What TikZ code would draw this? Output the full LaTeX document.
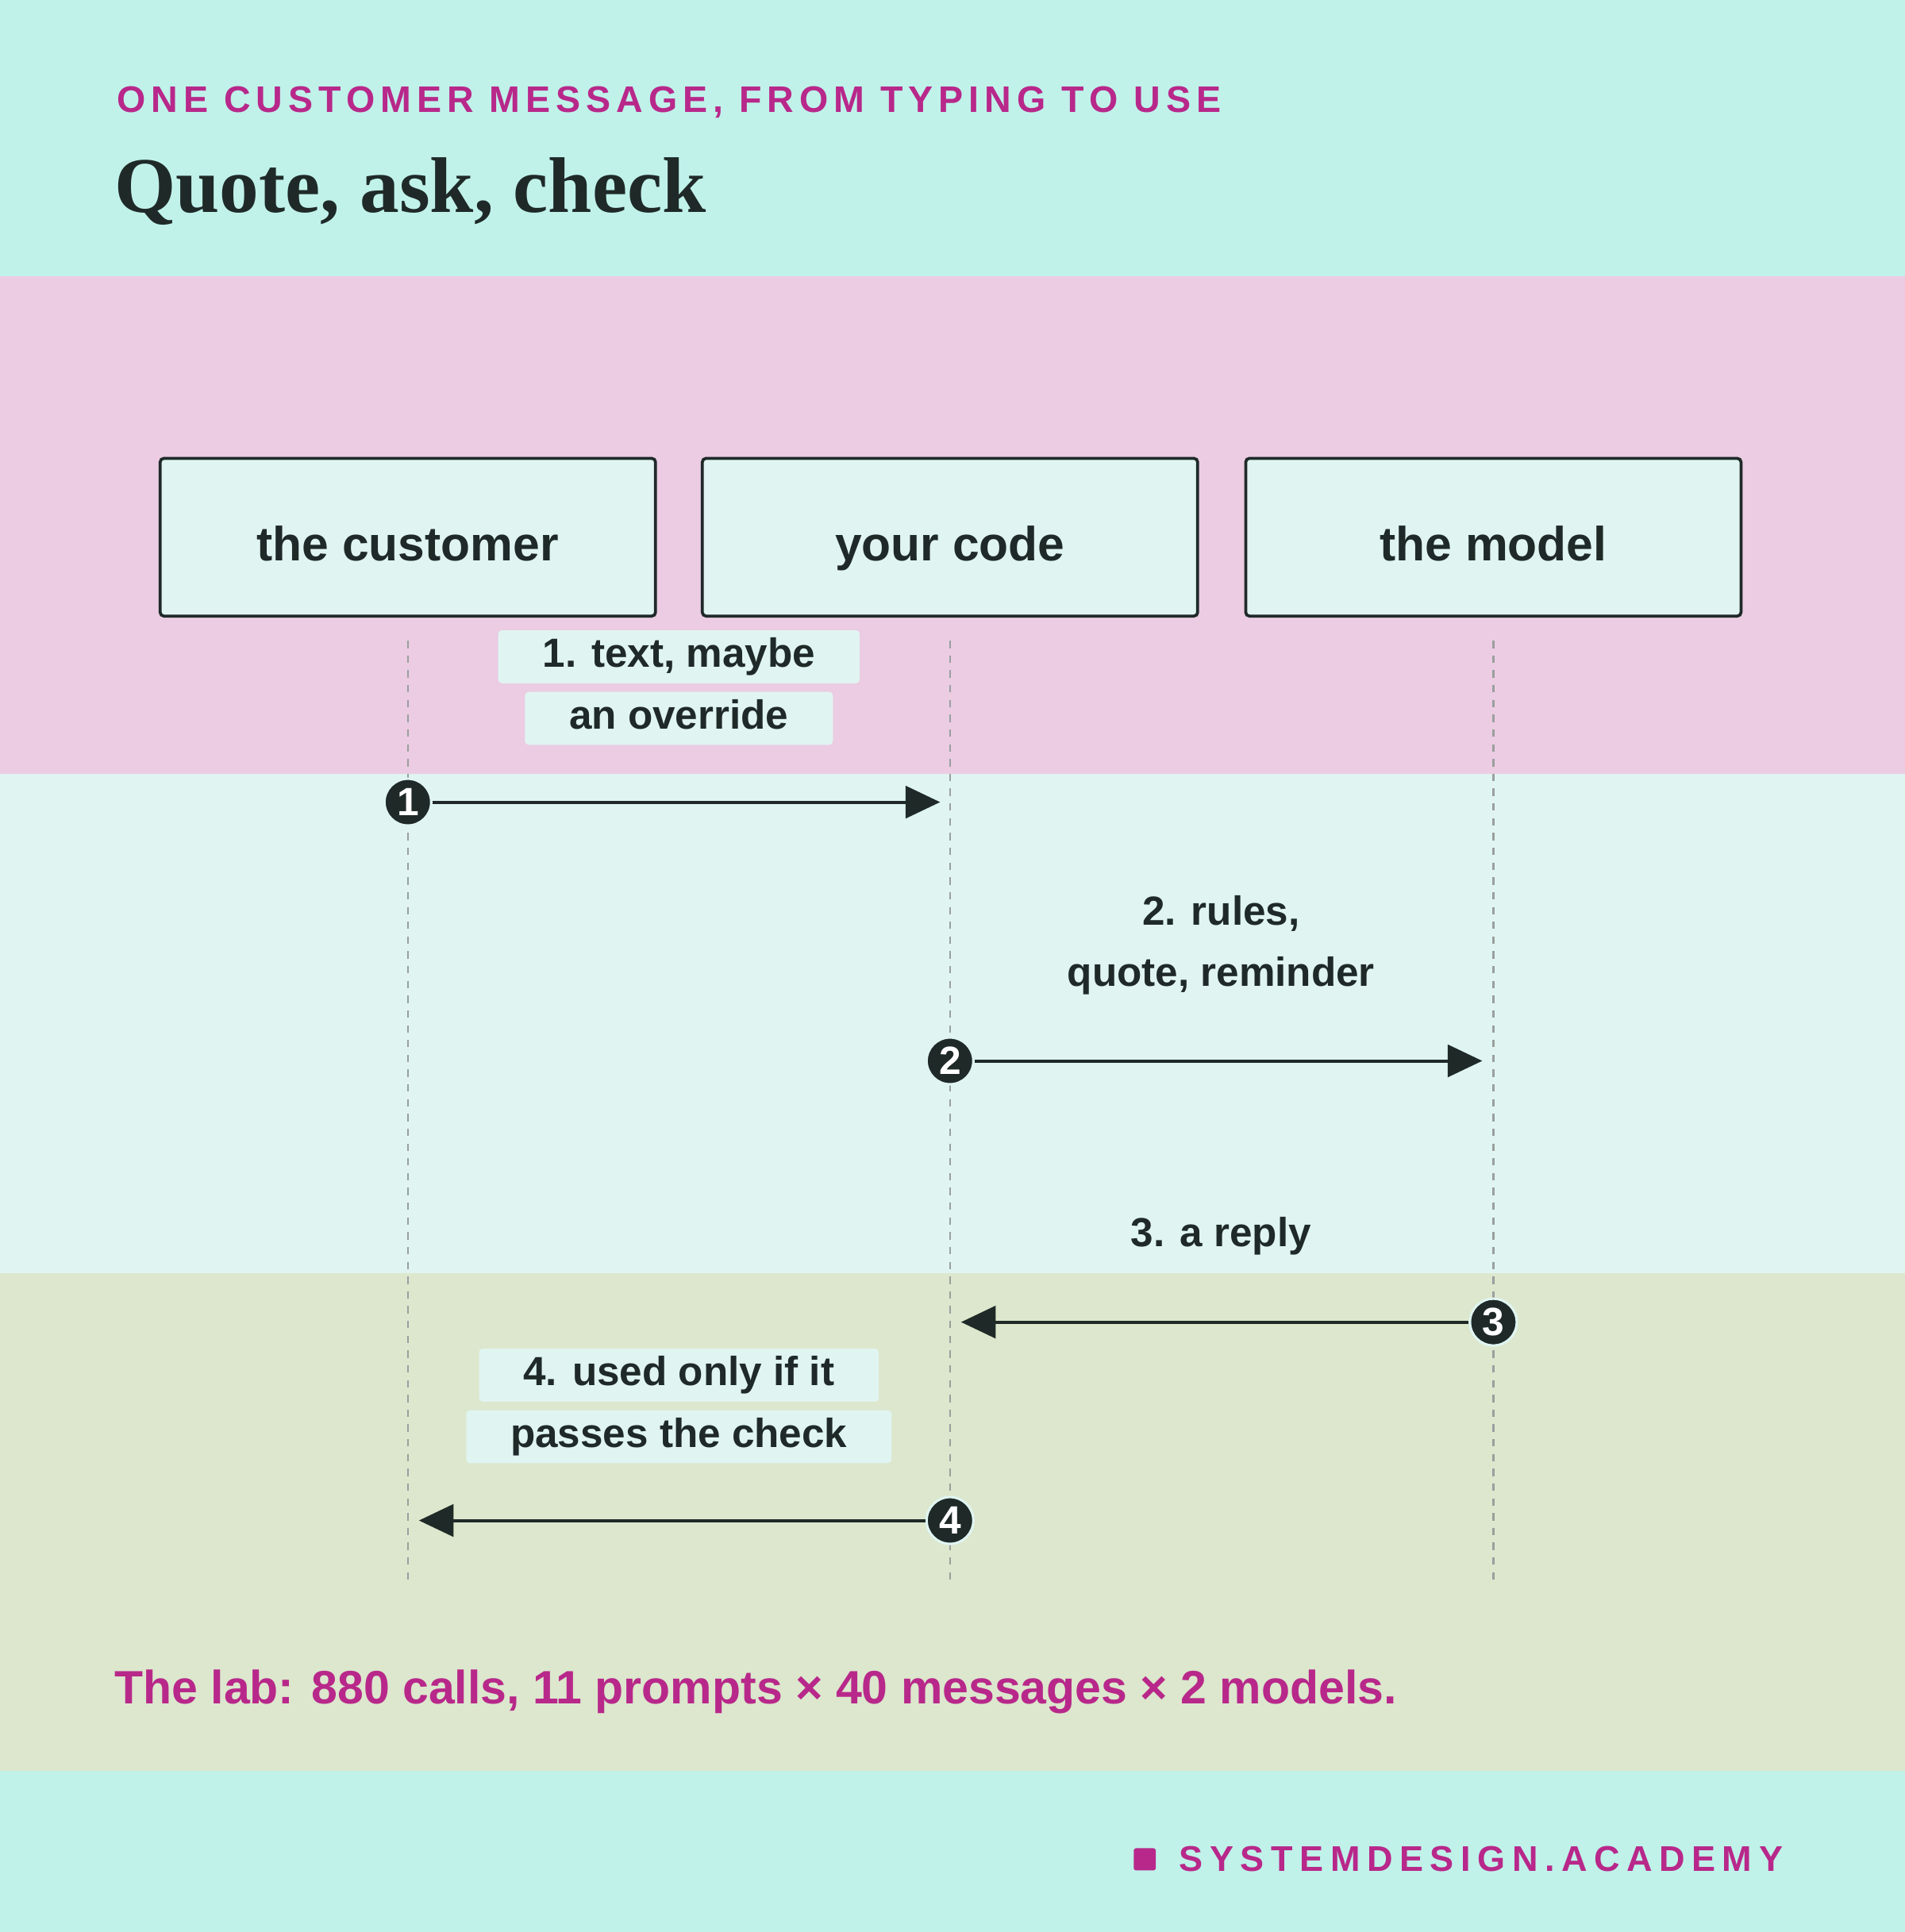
\documentclass[tikz,border=0pt]{standalone}
\usepackage{fontspec}
\setmainfont{Liberation Sans}
\newfontfamily\titlefont{Liberation Serif}
\usetikzlibrary{arrows.meta}
\definecolor{cyanbg}{HTML}{C0F2EA}
\definecolor{pinkbg}{HTML}{EBCCE3}
\definecolor{lightbg}{HTML}{E0F5F1}
\definecolor{greenbg}{HTML}{DCE7CD}
\definecolor{ink}{HTML}{1F2A28}
\definecolor{mag}{HTML}{B8288A}
\begin{document}
\begin{tikzpicture}[x=0.5pt,y=-0.5pt,
  actor/.style={draw=ink,line width=1.2pt,fill=lightbg,rounded corners=1.5pt,minimum width=201pt,minimum height=64pt,text height=19pt,text depth=0pt,font=\bfseries\fontsize{19.5}{24}\selectfont,text=ink},
  lbl/.style={font=\bfseries\fontsize{16.5}{20}\selectfont,text=ink,inner xsep=10pt,inner ysep=3pt,text height=12pt,text depth=3.5pt},
  lblbox/.style={lbl,fill=lightbg,rounded corners=1.5pt,inner xsep=18pt},
  life/.style={draw=ink!45,dashed,line width=0.8pt},
  msg/.style={draw=ink,line width=1.3pt,-{Triangle[length=14pt,width=13pt]}},
  num/.style={circle,fill=ink,draw=lightbg,line width=1pt,inner sep=0pt,minimum size=19pt,text=white,font=\bfseries\fontsize{16}{16}\selectfont}]
\useasboundingbox (0,0) rectangle (1546,1568);
\fill[cyanbg] (0,0) rectangle (1546,224);
\fill[pinkbg] (0,224) rectangle (1546,628);
\fill[lightbg] (0,628) rectangle (1546,1033);
\fill[greenbg] (0,1033) rectangle (1546,1437);
\fill[cyanbg] (0,1437) rectangle (1546,1568);
\node[anchor=west,text=mag,font=\bfseries\fontsize{15}{18}\selectfont\addfontfeature{LetterSpace=15}] (kick) at (88,83) {ONE CUSTOMER MESSAGE, FROM TYPING TO USE};
\node[anchor=west,text=ink,font=\titlefont\bfseries\fontsize{32}{36}\selectfont] (title) at (86,155) {Quote, ask, check};
\node[actor] (cust) at (331,436) {the customer};
\node[actor] (code) at (771,436) {your code};
\node[actor] (model) at (1212,436) {the model};
\coordinate (c0) at (331,520); \coordinate (c1) at (331,1282);
\coordinate (d0) at (771,520); \coordinate (d1) at (771,1282);
\coordinate (m0) at (1212,520); \coordinate (m1) at (1212,1282);
\draw[life] (c0)--(c1); \draw[life] (d0)--(d1); \draw[life] (m0)--(m1);
% 1
\coordinate (a1e) at (763,651);
\node[num] (n1) at (331,651) {1};
\draw[msg] (n1)--(a1e);
\node[lblbox] (l1a) at (551,533) {1. text, maybe};
\node[lblbox] (l1b) at (551,583) {an override};
% 2
\coordinate (a2e) at (1203,861);
\node[num] (n2) at (771,861) {2};
\draw[msg] (n2)--(a2e);
\node[lbl] (l2a) at (991,742) {2. rules,};
\node[lbl] (l2b) at (991,792) {quote, reminder};
% 3
\coordinate (a3e) at (780,1073);
\node[num] (n3) at (1212,1073) {3};
\draw[msg] (n3)--(a3e);
\node[lbl] (l3) at (991,1003) {3. a reply};
% 4
\coordinate (a4e) at (340,1234);
\node[num] (n4) at (771,1234) {4};
\draw[msg] (n4)--(a4e);
\node[lblbox] (l4a) at (551,1116) {4. used only if it};
\node[lblbox] (l4b) at (551,1166) {passes the check};
\node[anchor=west,text=mag,font=\bfseries\fontsize{19}{24}\selectfont] (foot) at (86,1373) {The lab: 880 calls, 11 prompts × 40 messages × 2 models.};
\node[anchor=east,text=mag,font=\bfseries\fontsize{14.5}{18}\selectfont\addfontfeature{LetterSpace=19}] (brand) at (1454,1509) {SYSTEMDESIGN.ACADEMY};
\fill[mag,rounded corners=1pt] ([xshift=-6pt,yshift=-4.5pt]brand.west) rectangle ++(-9pt,9pt);
\end{tikzpicture}
\end{document}
